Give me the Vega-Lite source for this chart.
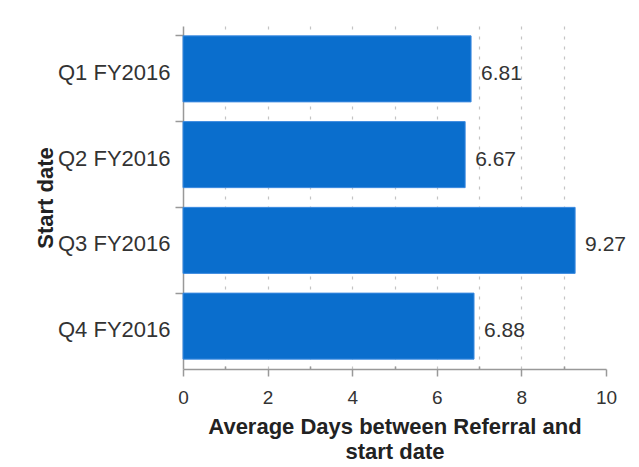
{
  "$schema": "https://vega.github.io/schema/vega-lite/v6.json",
  "width": 423,
  "height": 343,
  "autosize": {"type": "none"},
  "padding": {"left": 183, "top": 26, "right": 33, "bottom": 98},
  "background": "white",
  "config": {
    "font": "Liberation Sans",
    "view": {"stroke": null},
    "axis": {"labelColor": "#333", "titleColor": "#222", "domainColor": "#999", "tickColor": "#999", "domainWidth": 1.5, "tickWidth": 1.5}
  },
  "data": {
    "values": [
      {"quarter": "Q1 FY2016", "days": 6.81},
      {"quarter": "Q2 FY2016", "days": 6.67},
      {"quarter": "Q3 FY2016", "days": 9.27},
      {"quarter": "Q4 FY2016", "days": 6.88}
    ]
  },
  "encoding": {
    "y": {
      "field": "quarter",
      "type": "nominal",
      "sort": null,
      "scale": {"paddingInner": 0.23, "paddingOuter": 0.115},
      "axis": {
        "title": "Start date",
        "titleFontSize": 22,
        "titleFontWeight": "bold",
        "titlePadding": 0,
        "labelFontSize": 22,
        "labelPadding": 5,
        "labelOffset": 4,
        "tickSize": 8,
        "bandPosition": 0,
        "grid": false
      }
    },
    "x": {
      "field": "days",
      "type": "quantitative",
      "scale": {"domain": [0, 10], "nice": false},
      "axis": {
        "values": [0, 1, 2, 3, 4, 5, 6, 7, 8, 9, 10],
        "labelExpr": "datum.value % 2 === 0 ? datum.label : ''",
        "labelFlush": false,
        "labelFontSize": 19,
        "labelPadding": 12,
        "tickSize": {"condition": {"test": "datum.value % 2 === 1", "value": -3}, "value": 7},
        "grid": true,
        "gridColor": "#c4c4c4",
        "gridDash": [3, 7],
        "gridWidth": 1.2,
        "gridOpacity": {"condition": {"test": "datum.value === 0 || datum.value === 10", "value": 0}, "value": 1},
        "title": ["Average Days between Referral and", "start date"],
        "titleFontSize": 22,
        "titleFontWeight": "bold",
        "titleLineHeight": 25,
        "titlePadding": 9
      }
    }
  },
  "layer": [
    {"mark": {"type": "bar", "color": "#0a6ecd", "stroke": "#3d8be0", "strokeWidth": 1}},
    {
      "mark": {"type": "text", "align": "left", "baseline": "middle", "dx": 10, "dy": 5, "fontSize": 21, "color": "#333"},
      "encoding": {"text": {"field": "days", "type": "quantitative", "format": ".2f"}}
    }
  ]
}
